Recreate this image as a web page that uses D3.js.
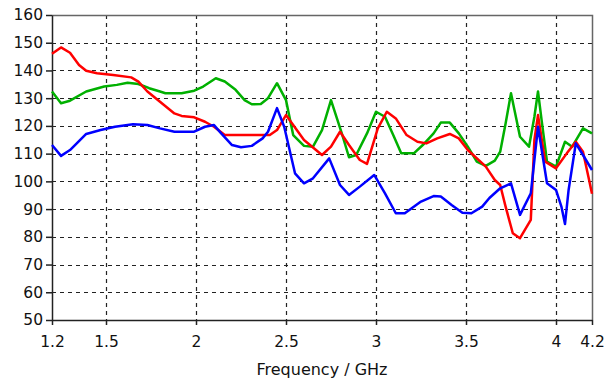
<!DOCTYPE html>
<html>
<head>
<meta charset="utf-8">
<script src="https://cdn.jsdelivr.net/npm/d3@7"></script>
<style>
  body { margin: 0; background: #fff; }
  text { font-family: "DejaVu Sans", Verdana, sans-serif; fill: #111; }
</style>
</head>
<body>
<div id="chart"></div>
<script>
// tick values
const xTicks = [1.2, 1.5, 2, 2.5, 3, 3.5, 4, 4.2];
const yTicks = [50, 60, 70, 80, 90, 100, 110, 120, 130, 140, 150, 160];

// series (frequency in GHz, value)
const redFreq = [1.2,1.25,1.3,1.35,1.39,1.45,1.54,1.64,1.68,1.73,1.8,1.88,1.92,1.99,2.05,2.1,2.16,2.38,2.41,2.45,2.5,2.54,2.6,2.7,2.75,2.8,2.85,2.91,2.95,3.01,3.06,3.11,3.17,3.23,3.28,3.34,3.41,3.46,3.51,3.61,3.66,3.69,3.72,3.76,3.8,3.86,3.88,3.9,3.94,4.0,4.06,4.11,4.15,4.18,4.2];
const redVal = [146,148.3,146.4,142,139.9,139,138.4,137.5,136,132.4,128.7,124.5,123.6,123.1,121.5,119.7,116.7,116.7,116.7,118.5,123.9,120.3,114.9,109.5,112.5,117.9,113.1,107.7,106.3,119.1,125.1,122.7,116.7,114.3,113.7,115.5,117.1,115.5,111.3,105.3,100.5,98.7,90.9,81.3,79.5,86.1,114.9,123.9,107.1,104.7,110.1,114.3,110.7,101.7,95.5];

const greenFreq = [1.2,1.25,1.3,1.39,1.49,1.56,1.62,1.68,1.74,1.8,1.83,1.92,1.99,2.04,2.11,2.16,2.22,2.27,2.31,2.36,2.4,2.45,2.5,2.54,2.6,2.65,2.7,2.75,2.81,2.85,2.89,2.95,3.0,3.05,3.1,3.14,3.21,3.26,3.32,3.36,3.41,3.46,3.51,3.56,3.61,3.66,3.69,3.72,3.75,3.8,3.85,3.88,3.9,3.92,3.95,4.0,4.05,4.09,4.15,4.2];
const greenVal = [132.4,128.2,129.1,132.4,134.2,134.8,135.6,135.1,133.6,132.4,131.8,131.8,132.7,134.2,137.2,136,133,129.3,127.8,127.9,130,135.4,129.3,116.7,112.8,112.5,118.5,129.3,117.3,108.7,109.5,117.3,125.1,123.3,116.1,110.1,110.1,113.1,117.3,121.2,121.2,117.3,112.5,107.1,105.6,107.5,110.7,120.9,131.8,116.1,112.5,123.3,132.4,122.1,107.1,105.3,114.3,112.5,119.1,117.3];

const blueFreq = [1.2,1.25,1.3,1.39,1.47,1.55,1.65,1.73,1.8,1.88,1.99,2.05,2.1,2.14,2.2,2.25,2.31,2.37,2.4,2.45,2.49,2.55,2.6,2.65,2.74,2.8,2.85,2.91,2.99,3.05,3.11,3.16,3.25,3.32,3.36,3.42,3.48,3.53,3.59,3.63,3.69,3.75,3.8,3.86,3.9,3.95,4.0,4.03,4.05,4.07,4.11,4.15,4.2];
const blueVal = [113.1,109.2,111.3,117.1,118.5,119.7,120.6,120.3,119.1,117.9,117.9,119.7,120.3,117.3,113.1,112.3,112.8,115.5,117.9,126.4,119.7,102.9,99.3,101.1,108.3,98.7,95.1,98.1,102.3,95.7,88.5,88.5,92.7,94.7,94.5,91.5,88.7,88.5,90.9,94,97.5,99.3,87.9,95.7,119.7,99.3,96.9,90.9,84.6,96.9,113.7,109.5,104.1];

const W = 607, H = 381;
const margin = {top: 15, right: 15, bottom: 61, left: 52};
const width = W - margin.left - margin.right;
const height = H - margin.top - margin.bottom;

const svg = d3.select("#chart").append("svg")
  .attr("width", W)
  .attr("height", H);

const g = svg.append("g")
  .attr("transform", "translate(" + margin.left + "," + margin.top + ")");

const x = d3.scaleLinear().domain([1.2, 4.2]).range([0, width]);
const y = d3.scaleLinear().domain([50, 160]).range([height, 0]);

// dashed grid
g.append("g")
  .selectAll("line")
  .data(xTicks.slice(1, -1))
  .enter().append("line")
  .attr("x1", d => Math.round(x(d)) + 0.5)
  .attr("x2", d => Math.round(x(d)) + 0.5)
  .attr("y1", 0)
  .attr("y2", height)
  .attr("stroke", "#222")
  .attr("stroke-width", 1.2)
  .attr("stroke-dasharray", "4,4");

g.append("g")
  .selectAll("line")
  .data(yTicks.slice(1, -1))
  .enter().append("line")
  .attr("x1", 0)
  .attr("x2", width)
  .attr("y1", d => Math.round(y(d)) + 0.5)
  .attr("y2", d => Math.round(y(d)) + 0.5)
  .attr("stroke", "#222")
  .attr("stroke-width", 1.2)
  .attr("stroke-dasharray", "4,4");

// top and right border
g.append("path")
  .attr("d", "M0,0.5H" + (width + 0.5) + "V" + height)
  .attr("fill", "none")
  .attr("stroke", "#666")
  .attr("stroke-width", 1.5);

// axes
const xAxis = g.append("g")
  .attr("transform", "translate(0," + height + ")")
  .call(d3.axisBottom(x).tickValues(xTicks).tickSize(5).tickSizeOuter(0).tickFormat(d3.format("")));

const yAxis = g.append("g")
  .call(d3.axisLeft(y).tickValues(yTicks).tickSize(6).tickSizeOuter(0));

[xAxis, yAxis].forEach(a => {
  a.select(".domain").attr("stroke", "#222").attr("stroke-width", 1.5);
  a.selectAll(".tick line").attr("stroke", "#222").attr("stroke-width", 1.5);
  a.selectAll("text").attr("font-size", 15.5).attr("fill", "#111")
    .attr("font-family", "'DejaVu Sans', Verdana, sans-serif");
});
xAxis.selectAll("text").attr("dy", "1.2em");
yAxis.selectAll("text").attr("x", -9);

// axis title
g.append("text")
  .attr("x", width / 2)
  .attr("y", height + 55)
  .attr("text-anchor", "middle")
  .attr("font-size", 16)
  .text("Frequency / GHz");

// lines
const line = d3.line()
  .x(d => x(d[0]))
  .y(d => y(d[1]));

const series = [
  {freq: greenFreq, val: greenVal, color: "#00b000"},
  {freq: redFreq, val: redVal, color: "#ff0000"},
  {freq: blueFreq, val: blueVal, color: "#0000ff"}
];

series.forEach(s => {
  g.append("path")
    .datum(d3.zip(s.freq, s.val))
    .attr("fill", "none")
    .attr("stroke", s.color)
    .attr("stroke-width", 2.5)
    .attr("stroke-linejoin", "round")
    .attr("d", line);
});
</script>
</body>
</html>
